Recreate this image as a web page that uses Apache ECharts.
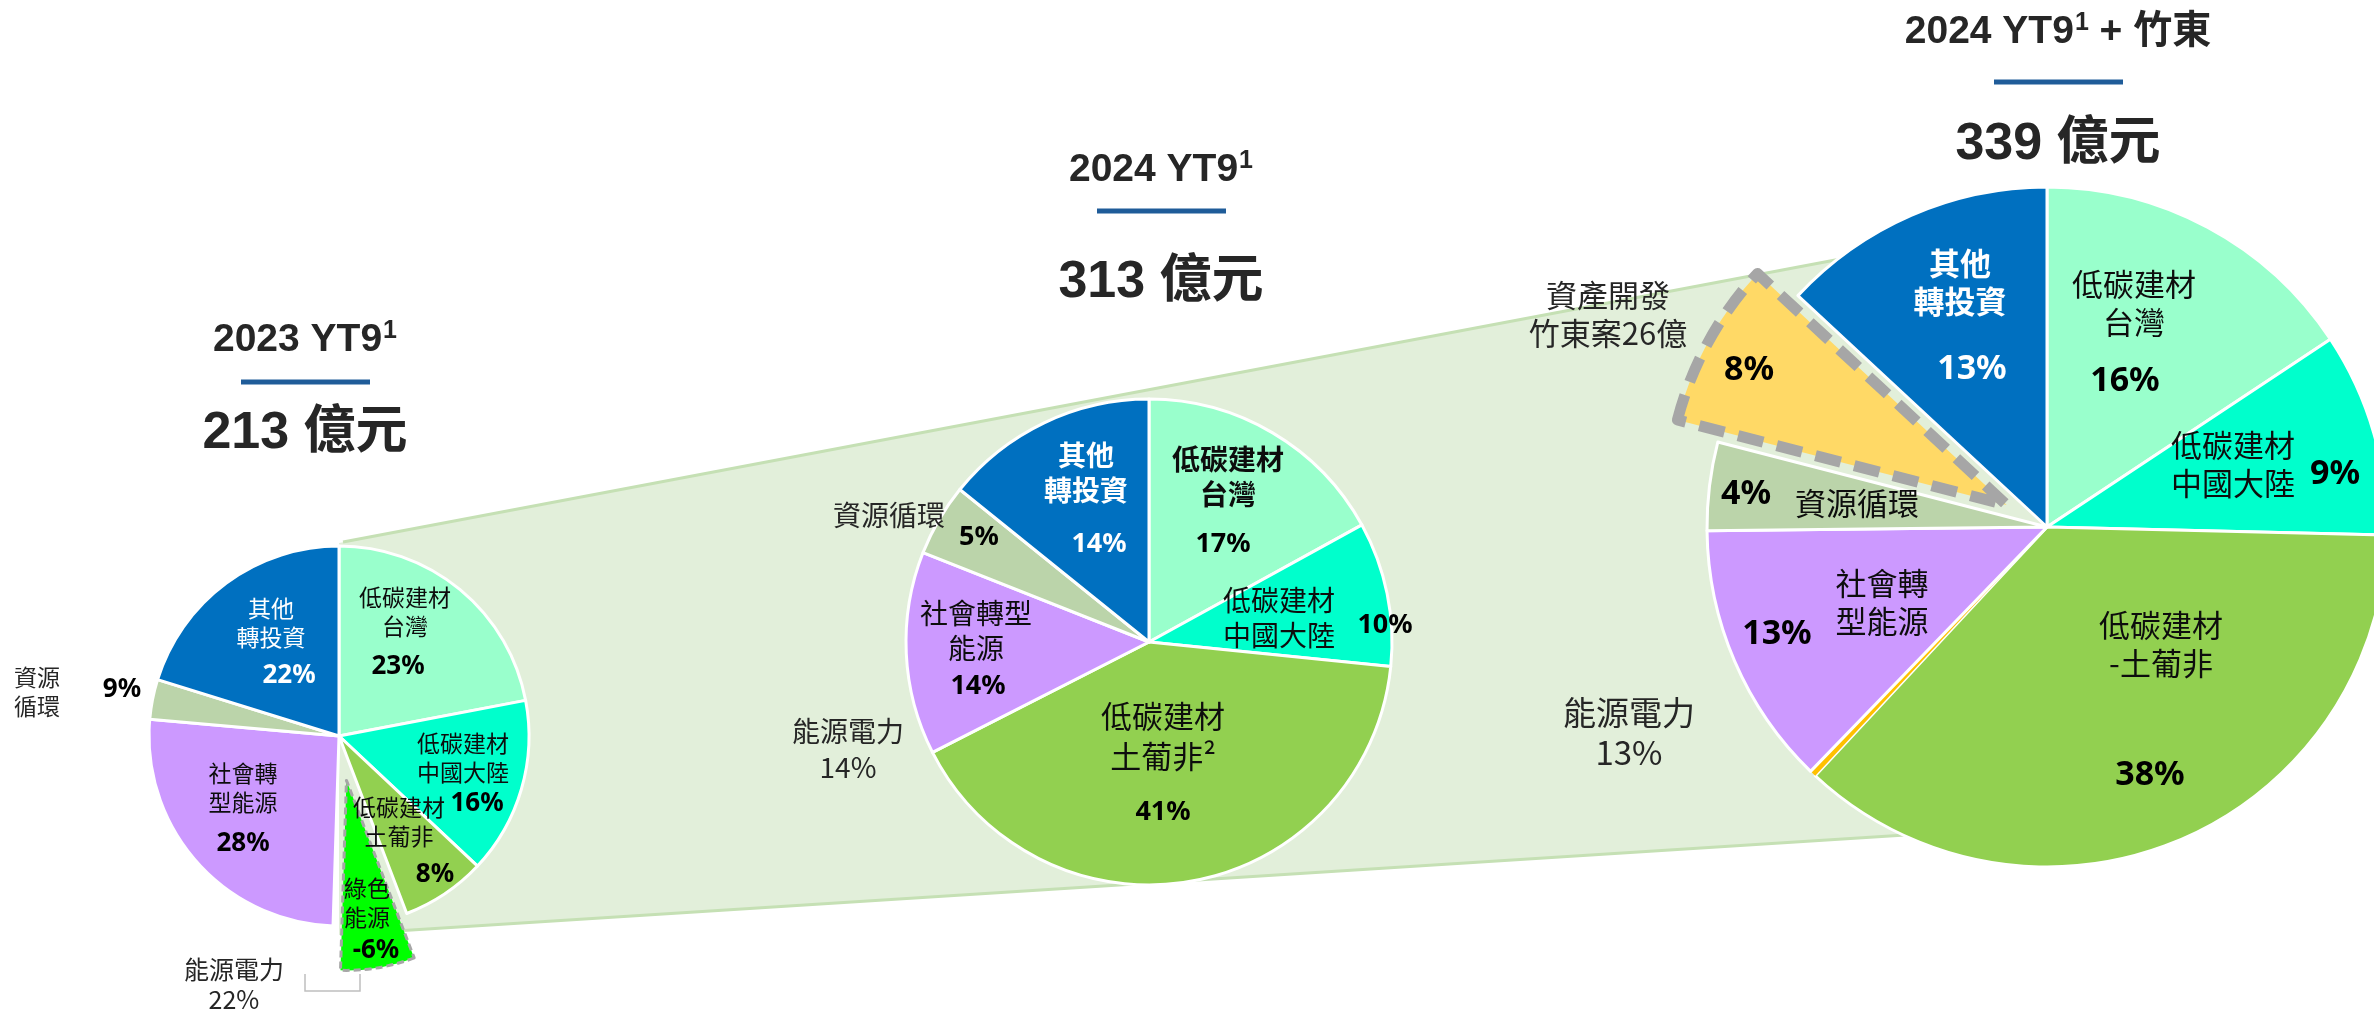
<!DOCTYPE html>
<html>
<head>
    <meta charset="utf-8">
    <title>轉投資結構</title>
    <script src="https://cdn.jsdelivr.net/npm/echarts@6/dist/echarts.min.js"></script>
    <style>
        html, body { margin: 0; padding: 0; background: #fff; }
        #main { width: 2374px; height: 1011px; }
    </style>
</head>
<body>
    <div id="main"></div>
    <script type="text/javascript">
    // 期間標題與總額(億元)
    var periods = ['2023 YT9', '2024 YT9', '2024 YT9'];
    var periodSuffix = ['', '', ' + 竹東'];
    var totals = [213, 313, 339];
    var energyPower = [22, 14, 13];   // 能源電力 合計 %

    // 2023 YT9
    var names2023 = ['低碳建材\n台灣', '低碳建材\n中國大陸', '低碳建材\n土葡非', '綠色\n能源', '社會轉\n型能源', '資源\n循環', '其他\n轉投資'];
    var pct2023 = [23, 16, 8, -6, 28, 9, 22];
    var share2023 = [22.0, 15.0, 7.2, 6.3, 25.9, 3.4, 20.2];   // 扇形大小(依圖量測)

    // 2024 YT9
    var names2024 = ['低碳建材\n台灣', '低碳建材\n中國大陸', '低碳建材\n土葡非²', '社會轉型\n能源', '資源循環', '其他\n轉投資'];
    var pct2024 = [17, 10, 41, 14, 5, 14];
    var share2024 = [17.0, 9.6, 40.9, 13.5, 4.8, 14.2];

    // 2024 YT9 + 竹東
    var names2024z = ['低碳建材\n台灣', '低碳建材\n中國大陸', '低碳建材\n-土葡非', '綠色能源', '社會轉\n型能源', '資源循環', '資產開發\n竹東案26億', '其他\n轉投資'];
    var pct2024z = [16, 9, 38, null, 13, 4, 8, 13];
    var share2024z = [15.7, 9.7, 36.6, 0.3, 12.6, 4.2, 7.9, 13.1];

    var CJK = "'Noto Sans CJK TC', 'Noto Sans CJK SC', sans-serif";
    var NUM = "'Noto Sans', 'Noto Sans CJK TC', sans-serif";
    var HEAD = "'Liberation Sans', 'Noto Sans CJK TC', sans-serif";

    // 版面設定
    var pies = [
        {
            center: [339, 736], r: 190, nameSize: 23, lh: 28.5, pctSize: 26,
            names: names2023, pct: pct2023, share: share2023,
            colors: ['#99FFCC', '#00FFCC', '#92D050', '#00FF00', '#CC99FF', '#BBD4AA', '#0070C0'],
            exploded: 3, offset: 45, dash: [7, 4], dashW: 3,
            nameSt: ['n', 'n', 'n', 'n', 'n', 'g', 'w'],
            pctSt: ['p', 'p', 'p', 'p', 'p', 'p', 'pw'],
            namePos: [[66, -124], [124, 22], [60, 86], [28, 167], [-96, 52], [-302, -44], [-68, -113]],
            pctPos: [[59, -69], [138, 68], [96, 139], [37, 215], [-96, 108], [-217, -46], [-50, -60]]
        },
        {
            center: [1149, 642], r: 243, nameSize: 28, lh: 35, pctSize: 27,
            names: names2024, pct: pct2024, share: share2024,
            colors: ['#99FFCC', '#00FFCC', '#92D050', '#CC99FF', '#BBD4AA', '#0070C0'],
            exploded: -1, offset: 0,
            nameSt: ['b', 'n', 'big', 'n', 'g', 'wb'],
            pctSt: ['p', 'p', 'p', 'p', 'p', 'pw'],
            namePos: [[79, -165], [130, -24], [14, 94], [-173, -11], [-260, -127], [-63, -169]],
            pctPos: [[74, -98], [236, -17], [14, 170], [-171, 44], [-170, -105], [-50, -98]]
        },
        {
            center: [2047, 527], r: 340, nameSize: 31, lh: 38, pctSize: 34,
            names: names2024z, pct: pct2024z, share: share2024z,
            colors: ['#99FFCC', '#00FFCC', '#92D050', '#FFC000', '#CC99FF', '#BBD4AA', '#FFD966', '#0070C0'],
            exploded: 6, offset: 46, dash: [26, 14], dashW: 11,
            nameSt: ['n', 'n', 'n', 'n', 'n', 'n', 'g', 'wb'],
            pctSt: ['p', 'p', 'p', 'p', 'p', 'p', 'p', 'pw'],
            namePos: [[87, -224], [186, -63], [114, 117], [0, 0], [-165, 75], [-190, -24], [-439, -213], [-87, -245]],
            pctPos: [[78, -146], [288, -53], [103, 248], [0, 0], [-270, 107], [-301, -33], [-298, -157], [-75, -158]]
        }
    ];

    function richFor(p) {
        var base = { fontFamily: CJK, fontSize: p.nameSize, lineHeight: p.lh, color: '#0D0D0D' };
        function ext(o) { return Object.assign({}, base, o); }
        return {
            n: ext({}),
            b: ext({ fontWeight: 'bold' }),
            g: ext({ color: '#262626' }),
            w: ext({ color: '#ffffff' }),
            wb: ext({ color: '#ffffff', fontWeight: 'bold' }),
            big: ext({ fontSize: 31, lineHeight: 40 }),
            p: { fontFamily: NUM, fontWeight: 'bold', fontSize: p.pctSize, color: '#000000' },
            pw: { fontFamily: NUM, fontWeight: 'bold', fontSize: p.pctSize, color: '#ffffff' }
        };
    }

    // 扇形本體(不帶文字)
    function sliceSeries(p) {
        return {
            type: 'pie', center: p.center, radius: p.r, startAngle: 90, clockwise: true,
            selectedMode: 'multiple', selectedOffset: p.offset,
            animation: false, silent: true, z: 2,
            itemStyle: { borderColor: '#ffffff', borderWidth: 3 },
            label: { show: false },
            labelLine: { show: false },
            data: p.share.map(function (v, i) {
                var d = { value: v, name: 's' + i, itemStyle: { color: p.colors[i] } };
                if (p.pct[i] === null) d.itemStyle.borderWidth = 0;
                if (i === p.exploded) {
                    d.selected = true;
                    d.itemStyle.borderColor = '#A6A6A6';
                    d.itemStyle.borderType = p.dash;
                    d.itemStyle.borderWidth = p.dashW;
                }
                return d;
            })
        };
    }

    // 透明疊層,專放名稱或百分比文字
    function textSeries(p, kind) {
        var table = kind === 'name' ? p.namePos : p.pctPos;
        return {
            type: 'pie', center: p.center, radius: p.r, startAngle: 90, clockwise: true,
            avoidLabelOverlap: false, animation: false, silent: true, z: 3,
            itemStyle: { color: 'rgba(0,0,0,0)', borderWidth: 0 },
            label: {
                show: true, position: 'inside',
                formatter: function (params) {
                    var i = params.dataIndex;
                    if (p.pct[i] === null) return '';
                    if (kind === 'name') {
                        return p.names[i].split('\n').map(function (s) {
                            return '{' + p.nameSt[i] + '|' + s + '}';
                        }).join('\n');
                    }
                    return '{' + p.pctSt[i] + '|' + p.pct[i] + '%}';
                },
                rich: richFor(p)
            },
            labelLine: { show: false },
            labelLayout: function (params) {
                var o = table[params.dataIndex];
                return { x: p.center[0] + o[0], y: p.center[1] + o[1], align: 'center', verticalAlign: 'middle' };
            },
            data: p.share.map(function (v, i) { return { value: v, name: kind + i }; })
        };
    }

    var series = [];
    pies.forEach(function (p) { series.push(sliceSeries(p)); });
    pies.forEach(function (p) { series.push(textSeries(p, 'name')); series.push(textSeries(p, 'pct')); });

    // 標題位置: x, 標題 y, 底線 y, 金額 y
    var headPos = [[305, 338, 382, 434], [1161, 168, 211, 283], [2058, 30, 82, 145]];
    // 能源電力 標示位置: x, y, 字級, 行高
    var energyPos = [[234, 984, 25, 30], [848, 749, 28, 36], [1629, 732, 33, 40]];

    var graphic = [
        // 放大區塊背景
        { type: 'polygon', z: 0, shape: { points: [[339, 543], [2047, 220], [2047, 826], [339, 935]] },
          style: { fill: '#E2EFDA' } },
        { type: 'polyline', z: 1, shape: { points: [[343, 542], [2047, 220]] },
          style: { stroke: '#C5E0B4', lineWidth: 3, fill: null } },
        { type: 'polyline', z: 1, shape: { points: [[380, 932], [2047, 826]] },
          style: { stroke: '#C5E0B4', lineWidth: 3, fill: null } },
        // 能源電力 括號
        { type: 'polyline', z: 1, shape: { points: [[305, 974], [305, 991], [360, 991], [360, 974]] },
          style: { stroke: '#BFBFBF', lineWidth: 1.5, fill: null } }
    ];

    var headRich = {
        t: { fontFamily: HEAD, fontWeight: 'bold', fontSize: 39, lineHeight: 44, fill: '#262626', verticalAlign: 'bottom' },
        s: { fontFamily: HEAD, fontWeight: 'bold', fontSize: 25, lineHeight: 44, fill: '#262626', verticalAlign: 'top', padding: [3, 0, 0, 1] }
    };

    headPos.forEach(function (h, i) {
        var txt = '{t|' + periods[i] + '}{s|1}' + (periodSuffix[i] ? '{t|' + periodSuffix[i] + '}' : '');
        graphic.push({ type: 'text', z: 10, style: {
            text: txt, x: h[0], y: h[1], align: 'center', verticalAlign: 'middle', rich: headRich } });
        graphic.push({ type: 'rect', z: 10, shape: { x: h[0] - 64, y: h[2] - 2.5, width: 129, height: 5 },
            style: { fill: '#1F5C99' } });
        graphic.push({ type: 'text', z: 10, style: {
            text: totals[i] + ' 億元', x: h[0], y: h[3], align: 'center', verticalAlign: 'middle',
            fontFamily: HEAD, fontWeight: 'bold', fontSize: 52, fill: '#262626' } });
    });

    energyPos.forEach(function (e, i) {
        graphic.push({ type: 'text', z: 10, style: {
            text: '能源電力\n' + energyPower[i] + '%', x: e[0], y: e[1], align: 'center', verticalAlign: 'middle',
            fontFamily: CJK, fontSize: e[2], lineHeight: e[3], fill: '#262626' } });
    });

    var myChart = echarts.init(document.getElementById('main'), null, { renderer: 'canvas' });
    myChart.setOption({
        backgroundColor: '#ffffff',
        animation: false,
        graphic: graphic,
        series: series
    });
    </script>
</body>
</html>
